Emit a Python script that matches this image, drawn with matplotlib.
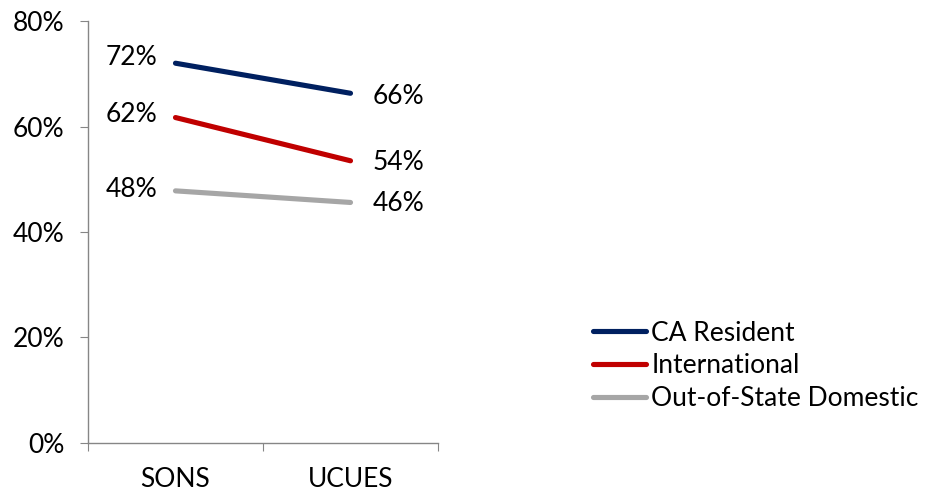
import matplotlib
matplotlib.use("Agg")
import matplotlib.pyplot as plt
from matplotlib.ticker import FixedLocator, PercentFormatter

categories = ["SONS", "UCUES"]
series_names = ["CA Resident", "International", "Out-of-State Domestic"]
ca_resident = [72.0, 66.3]
international = [61.7, 53.5]
out_of_state = [47.8, 45.6]
label_text = [["72%", "66%"], ["62%", "54%"], ["48%", "46%"]]
colors = ["#002060", "#C00000", "#A6A6A6"]
yticks = [0, 20, 40, 60, 80]

plt.rcParams['font.family'] = ['Lato', 'DejaVu Sans']
FS = 19

fig = plt.figure(figsize=(9.28, 4.92), dpi=100)
ax = fig.add_axes([0.0948, 0.0996, 0.3772, 0.8577])

xs = [0.5, 1.5]
all_series = [ca_resident, international, out_of_state]
label_dy = [[4, -2], [2, -1], [1, -1]]
for vals, name, col, labs, dy in zip(all_series, series_names, colors, label_text, label_dy):
    ax.plot(xs, vals, color=col, lw=3.7, solid_capstyle='round', label=name)
    ax.annotate(labs[0], (xs[0], vals[0]), xytext=(-13, dy[0]), textcoords='offset points',
                ha='right', va='center', fontsize=FS)
    ax.annotate(labs[1], (xs[1], vals[1]), xytext=(16, dy[1]), textcoords='offset points',
                ha='left', va='center', fontsize=FS)

ax.set_xlim(0, 2)
ax.set_ylim(0, 80)
ax.yaxis.set_major_locator(FixedLocator(yticks))
ax.yaxis.set_major_formatter(PercentFormatter(decimals=0))
ax.xaxis.set_major_locator(FixedLocator([0, 1, 2]))
ax.xaxis.set_major_formatter(plt.NullFormatter())
ax.xaxis.set_minor_locator(FixedLocator(xs))
ax.set_xticklabels(categories, minor=True)
ax.tick_params(axis='x', which='minor', length=0, labelsize=FS, pad=17)
ax.tick_params(axis='x', which='major', length=6, color='#868686', direction='out')
ax.tick_params(axis='y', length=6, color='#868686', labelsize=FS, pad=11)

for s in ['top', 'right']:
    ax.spines[s].set_visible(False)
for s in ['left', 'bottom']:
    ax.spines[s].set_color('#868686')
    ax.spines[s].set_linewidth(1.0)

fig.legend(loc='upper left', bbox_to_anchor=(0.628, 0.37), frameon=False, fontsize=FS,
           handlelength=2.0, handletextpad=0.2, labelspacing=0.3, borderaxespad=0)

fig.savefig("out.png", dpi=100)
